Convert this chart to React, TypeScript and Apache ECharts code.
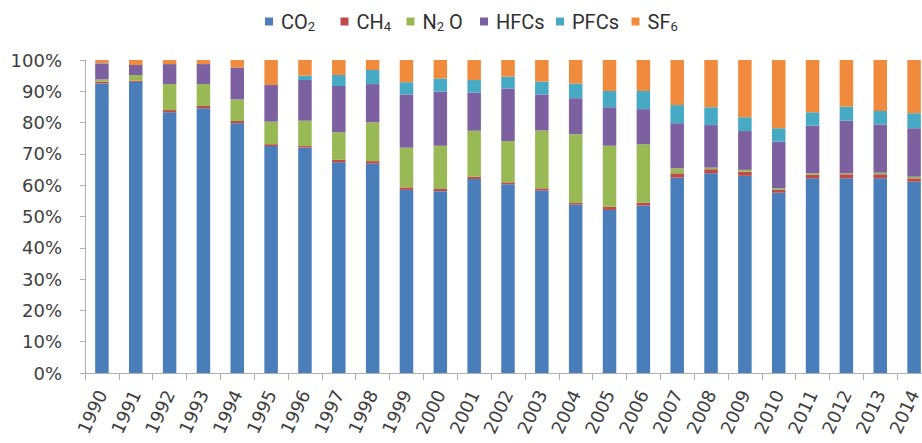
import React, { useEffect, useRef } from "react";
import * as echarts from "echarts";

const years = [
  "1990", "1991", "1992", "1993", "1994", "1995", "1996", "1997", "1998", "1999",
  "2000", "2001", "2002", "2003", "2004", "2005", "2006", "2007", "2008", "2009",
  "2010", "2011", "2012", "2013", "2014",
];

const co2 = [92.5, 93.0, 83.3, 84.6, 79.8, 72.5, 72.0, 67.3, 66.9, 58.5, 58.1, 62.0, 60.3, 58.3, 53.8, 52.1, 53.5, 62.4, 63.8, 63.0, 57.6, 62.2, 62.2, 62.2, 61.1];
const ch4 = [0.6, 0.4, 0.7, 0.7, 0.7, 0.6, 0.5, 0.8, 0.8, 0.8, 0.7, 0.7, 0.6, 0.7, 0.5, 1.0, 0.9, 1.4, 1.3, 1.3, 0.9, 1.1, 1.3, 1.3, 1.1];
const n2o = [0.7, 1.8, 8.3, 7.0, 6.9, 7.2, 8.1, 8.8, 12.4, 12.7, 13.8, 14.7, 13.2, 18.5, 22.0, 19.5, 18.7, 1.6, 0.5, 0.6, 0.5, 0.5, 0.3, 0.5, 0.5];
const hfcs = [5.1, 3.2, 6.4, 6.4, 10.2, 11.7, 13.0, 14.8, 12.2, 17.0, 17.3, 12.2, 16.8, 11.5, 11.5, 12.3, 11.2, 14.4, 13.6, 12.4, 14.9, 15.2, 16.8, 15.4, 15.5];
const pfcs = [0.1, 0, 0, 0, 0, 0, 1.4, 3.5, 4.5, 3.9, 4.2, 4.0, 3.8, 4.1, 4.7, 5.2, 5.8, 5.8, 5.7, 4.4, 4.3, 4.3, 4.5, 4.3, 4.8];
const sf6 = [1.0, 1.6, 1.3, 1.3, 2.4, 8.0, 5.0, 4.8, 3.2, 7.1, 5.9, 6.4, 5.3, 6.9, 7.5, 9.9, 9.9, 14.4, 15.1, 18.3, 21.8, 16.7, 14.9, 16.3, 17.0];

const seriesNames = ["CO2", "CH4", "N2O", "HFCs", "PFCs", "SF6"];
const legendLabels = ["{a|CO}{sub|2}", "{a|CH}{sub|4}", "{a|N}{sub|2}{b| O}", "{a|HFCs}", "{a|PFCs}", "{a|SF}{sub|6}"];
const colors = ["#4A7EBB", "#BE4B48", "#98B954", "#7D60A0", "#46AAC5", "#F08A3C"];
const legendLeft = [265, 340.5, 406.5, 480, 556, 631.5];

export default function App() {
  const ref = useRef<HTMLDivElement>(null);
  useEffect(() => {
    if (!ref.current) return;
    const chart = echarts.init(ref.current, undefined, { renderer: "svg" });
    const values = [co2, ch4, n2o, hfcs, pfcs, sf6];
    const axisColor = "#AFAFAF";
    const labelFont = "'DejaVu Sans', sans-serif";
    const lf = "Roboto, sans-serif";
    chart.setOption({
      animation: false,
      color: colors,
      grid: { left: 85, right: 9, top: 60, bottom: 70, containLabel: false },
      legend: seriesNames.map((n, i) => ({
        data: [n],
        left: legendLeft[i],
        top: 11.5,
        icon: "rect",
        itemWidth: 8,
        itemHeight: 8,
        padding: 0,
        selectedMode: false,
        formatter: () => legendLabels[i],
        textStyle: {
          color: "#303030",
          fontFamily: lf,
          rich: {
            a: { fontSize: 20, lineHeight: 22, fontFamily: lf, color: "#303030", padding: [0, 0, 0, 3] },
            b: { fontSize: 20, lineHeight: 22, fontFamily: lf, color: "#303030" },
            sub: { fontSize: 13, lineHeight: 12, verticalAlign: "bottom", fontFamily: lf, color: "#303030" },
          },
        },
      })),
      xAxis: {
        type: "category",
        data: years,
        axisLine: { show: true, lineStyle: { color: axisColor, width: 1 } },
        axisTick: { show: true, length: 7, lineStyle: { color: axisColor } },
        axisLabel: {
          interval: 0,
          rotate: 65,
          fontSize: 18,
          fontFamily: labelFont,
          color: "#404040",
          margin: 18,
        },
      },
      yAxis: {
        type: "value",
        min: 0,
        max: 100,
        interval: 10,
        axisLine: { show: true, lineStyle: { color: axisColor, width: 1 } },
        axisTick: { show: true, length: 5, lineStyle: { color: axisColor } },
        splitLine: { show: false },
        axisLabel: {
          formatter: "{value}%",
          fontSize: 18,
          fontFamily: labelFont,
          color: "#404040",
          margin: 23,
        },
      },
      series: seriesNames.map((n, i) => ({
        name: n,
        type: "bar",
        stack: "total",
        barWidth: 13.5,
        data: values[i],
        itemStyle: { color: colors[i] },
      })),
    });
    return () => chart.dispose();
  }, []);
  return (
    <div style={{ position: "absolute", left: 0, top: 0, width: 922, height: 443, overflow: "hidden", background: "#fff" }}>
      <div ref={ref} style={{ width: 940, height: 443 }} />
    </div>
  );
}
